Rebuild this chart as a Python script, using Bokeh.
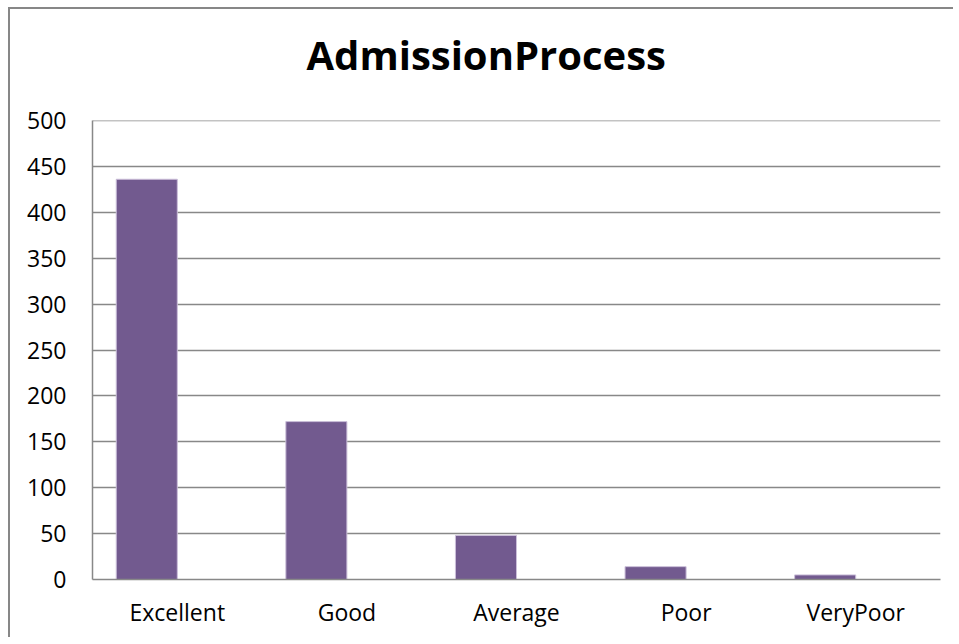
from bokeh.plotting import figure
from bokeh.models import FactorRange, ColumnDataSource, FixedTicker, Title, Span
from bokeh.transform import dodge
from bokeh.embed import file_html
from bokeh.resources import INLINE

categories = ["Excellent", "Good", "Average", "Poor", "VeryPoor"]
counts = [436, 172, 48, 14, 5]
y_ticks = [0, 50, 100, 150, 200, 250, 300, 350, 400, 450, 500]

FONT = "Open Sans"
GRID = "#888888"

src = ColumnDataSource(data=dict(cat=categories, val=counts))

p = figure(
    x_range=FactorRange(*categories, range_padding=0),
    y_range=(y_ticks[0], y_ticks[-1]),
    width=945, height=630,
    output_backend="svg", toolbar_location=None,
    min_border_left=82, min_border_right=15,
    min_border_top=111, min_border_bottom=60,
    styles={"border-left": "2px solid #878787", "border-top": "2px solid #878787",
            "margin-left": "8px", "margin-top": "7px"},
)
p.title = None
# spacer between frame and title
p.add_layout(Title(text=" ", text_font_size="1px", standoff=36), "above")
t = Title(text="AdmissionProcess", text_font=FONT, text_font_size="40px",
          text_font_style="bold", text_color="#000000", align="left", offset=214,
          standoff=0)
p.add_layout(t, "above")

p.vbar(x=dodge("cat", -0.18, range=p.x_range), top="val", width=0.36, source=src,
       fill_color="#725A8F", line_color="#CBBFD9", line_width=1)

p.outline_line_color = None
p.xgrid.grid_line_color = None
p.ygrid.grid_line_color = GRID
p.ygrid.grid_line_width = 1.5
p.yaxis.ticker = FixedTicker(ticks=y_ticks)
p.add_layout(Span(location=y_ticks[-1], dimension="width", line_color=GRID, line_width=1.5))

for ax in (p.xaxis, p.yaxis):
    ax.axis_line_color = GRID
    ax.axis_line_width = 1.5
    ax.major_tick_line_color = None
    ax.minor_tick_line_color = None
    ax.major_label_text_font = FONT
    ax.major_label_text_font_size = "23px"
    ax.major_label_text_color = "#000000"

p.yaxis.major_label_standoff = 20
p.xaxis.major_label_standoff = 10
p.background_fill_color = "white"
p.border_fill_color = "white"

open("out.html", "w").write(file_html(p, INLINE))
